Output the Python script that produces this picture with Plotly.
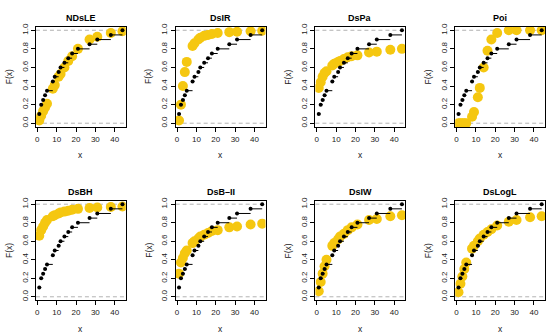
import plotly.graph_objects as go

# Data
x_vals = [1, 2, 3, 4, 5, 8, 9, 11, 12, 14, 16, 18, 21, 27, 31, 38, 44]
ecdf_vals = [0.10, 0.20, 0.25, 0.30, 0.35, 0.45, 0.50, 0.55, 0.60, 0.65,
             0.70, 0.75, 0.80, 0.85, 0.90, 0.95, 1.00]

model_names = ["NDsLE", "DsIR", "DsPa", "Poi", "DsBH", "DsB\u2013II", "DsIW", "DsLogL"]

ndsle = [0.03, 0.08, 0.13, 0.17, 0.21, 0.37, 0.41, 0.50, 0.53, 0.60, 0.67, 0.72, 0.80, 0.90, 0.93, 0.97, 0.99]
dsir = [0.03, 0.20, 0.40, 0.55, 0.66, 0.83, 0.86, 0.90, 0.92, 0.94, 0.95, 0.96, 0.97, 0.98, 0.985, 0.99, 0.995]
dspa = [0.38, 0.44, 0.50, 0.54, 0.56, 0.62, 0.64, 0.66, 0.67, 0.69, 0.71, 0.72, 0.73, 0.76, 0.77, 0.79, 0.80]
poi = [0.0, 0.0, 0.0, 0.0, 0.0, 0.07, 0.12, 0.28, 0.38, 0.60, 0.78, 0.90, 0.97, 1.0, 1.0, 1.0, 1.0]
dsbh = [0.66, 0.72, 0.76, 0.80, 0.83, 0.87, 0.88, 0.90, 0.91, 0.92, 0.93, 0.94, 0.95, 0.96, 0.965, 0.97, 0.975]
dsb2 = [0.25, 0.37, 0.42, 0.47, 0.50, 0.58, 0.60, 0.63, 0.65, 0.67, 0.69, 0.71, 0.72, 0.75, 0.76, 0.78, 0.79]
dsiw = [0.06, 0.16, 0.25, 0.33, 0.40, 0.55, 0.58, 0.62, 0.65, 0.68, 0.72, 0.75, 0.78, 0.83, 0.84, 0.87, 0.88]
dslogl = [0.05, 0.14, 0.22, 0.30, 0.37, 0.52, 0.55, 0.60, 0.63, 0.67, 0.70, 0.73, 0.77, 0.81, 0.83, 0.86, 0.87]

fitted = [ndsle, dsir, dspa, poi, dsbh, dsb2, dsiw, dslogl]

x_ticks = [0, 10, 20, 30, 40]
y_ticks = [0.0, 0.2, 0.4, 0.6, 0.8, 1.0]

W, H = 550, 334
YELLOW = "#F5C710"
FONT = "Liberation Sans, Arial, Helvetica, sans-serif"
TXT = "#222222"

fig = go.Figure()
layout = dict(
    width=W, height=H, autosize=False,
    margin=dict(l=0, r=0, t=0, b=0),
    paper_bgcolor="white", plot_bgcolor="white",
    showlegend=False, font=dict(family=FONT, color=TXT),
)
annotations = []
shapes = []

# step segments from ECDF
seg_x, seg_y = [], []
for i in range(len(x_vals) - 1):
    seg_x += [x_vals[i], x_vals[i + 1], None]
    seg_y += [ecdf_vals[i], ecdf_vals[i], None]

for k, (name, vals) in enumerate(zip(model_names, fitted)):
    r, c = divmod(k, 4)
    left = 35 + 140 * c
    right = left + 90
    top, bottom = (22.9, 124.8) if r == 0 else (199.5, 301.0)
    sfx = "" if k == 0 else str(k + 1)
    xa, ya = "x" + sfx, "y" + sfx

    fig.add_trace(go.Scatter(x=x_vals, y=vals, mode="markers", xaxis=xa, yaxis=ya,
                             marker=dict(color=YELLOW, size=10, line=dict(width=0)),
                             hoverinfo="skip"))
    fig.add_trace(go.Scatter(x=seg_x, y=seg_y, mode="lines", xaxis=xa, yaxis=ya,
                             line=dict(color="black", width=1), hoverinfo="skip"))
    fig.add_trace(go.Scatter(x=x_vals, y=ecdf_vals, mode="markers", xaxis=xa, yaxis=ya,
                             marker=dict(color="black", size=4, line=dict(width=0)),
                             hoverinfo="skip"))

    axis_common = dict(showline=True, mirror=True, linecolor="black", linewidth=1,
                       ticks="outside", ticklen=4, tickcolor="black", tickwidth=1,
                       showgrid=False, zeroline=False,
                       tickfont=dict(size=8, color=TXT, family=FONT))
    layout["xaxis" + sfx] = dict(domain=[left / W, right / W], anchor=ya,
                                 range=[-0.72, 45.72], tickvals=x_ticks, **axis_common)
    layout["yaxis" + sfx] = dict(domain=[1 - bottom / H, 1 - top / H], anchor=xa,
                                 range=[-0.04, 1.04], tickvals=y_ticks, tickformat=".1f",
                                 tickangle=-90, **axis_common)

    for yv in (0, 1):
        shapes.append(dict(type="line", xref=xa + " domain", yref=ya,
                           x0=0, x1=1, y0=yv, y1=yv,
                           line=dict(color="#B3B3B3", width=1, dash="4px,3px"),
                           layer="below"))

    cx = (left + right) / 2
    annotations.append(dict(text="<b>" + name + "</b>", x=cx / W, y=1 - (top - 8.5) / H,
                            xref="paper", yref="paper", showarrow=False,
                            xanchor="center", yanchor="middle",
                            font=dict(size=9, color="black", family=FONT)))
    annotations.append(dict(text="x", x=cx / W, y=1 - (bottom + 29) / H,
                            xref="paper", yref="paper", showarrow=False,
                            xanchor="center", yanchor="middle",
                            font=dict(size=8.5, color=TXT, family=FONT)))
    annotations.append(dict(text="F(x)", x=(left - 27.5) / W, y=1 - ((top + bottom) / 2) / H,
                            xref="paper", yref="paper", showarrow=False, textangle=-90,
                            xanchor="center", yanchor="middle",
                            font=dict(size=8.5, color=TXT, family=FONT)))

layout["annotations"] = annotations
layout["shapes"] = shapes
fig.update_layout(**layout)
fig.write_html("out.html",
               config={"displayModeBar": False, "staticPlot": True},
               post_script="document.body.style.margin='0';document.body.style.padding='0';"
                           "document.documentElement.style.overflow='hidden';")
